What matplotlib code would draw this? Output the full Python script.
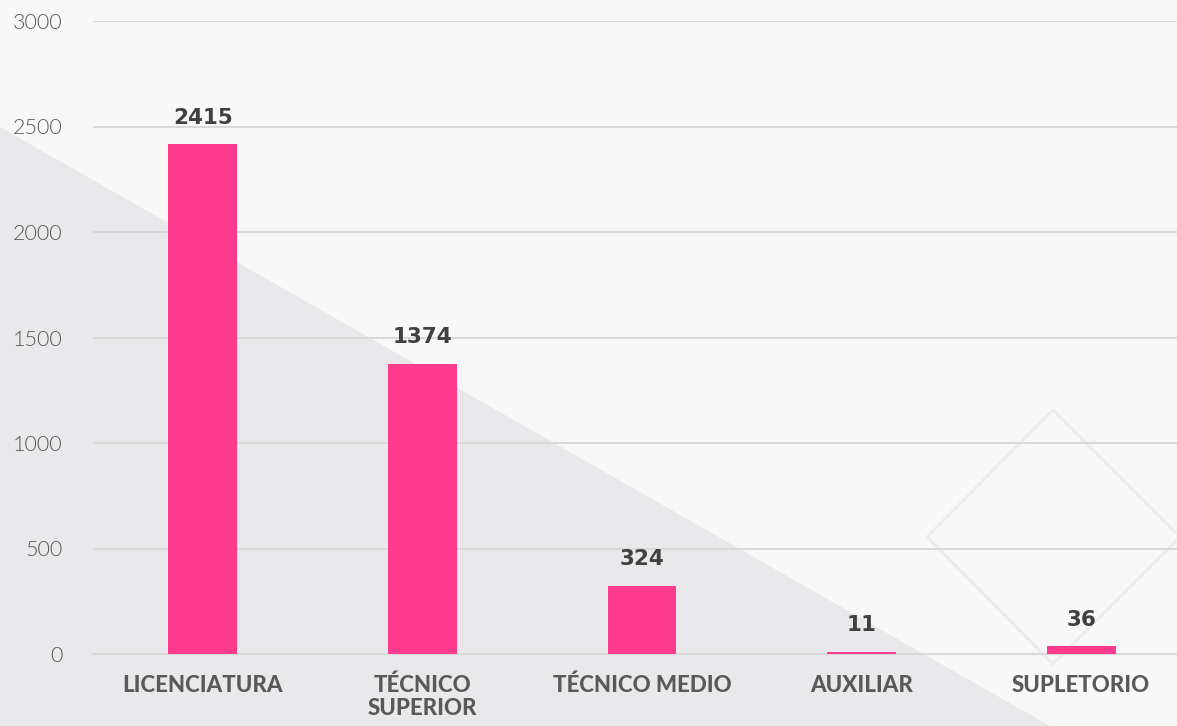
import numpy as np
import matplotlib.pyplot as plt
from matplotlib.patches import Polygon

categories = ["LICENCIATURA", "TÉCNICO\nSUPERIOR", "TÉCNICO MEDIO", "AUXILIAR", "SUPLETORIO"]
values = [2415, 1374, 324, 11, 36]
yticks = [0, 500, 1000, 1500, 2000, 2500, 3000]

W, H = 1177, 726
fig = plt.figure(figsize=(W / 100, H / 100), dpi=100)
fig.patch.set_facecolor("#f8f8f9")

# background: light grey triangle at the lower left + faint diamond decoration
bg = fig.add_axes([0, 0, 1, 1], zorder=0)
bg.set_xlim(0, W)
bg.set_ylim(H, 0)
bg.axis("off")
bg.add_patch(Polygon([(0, 127), (1050, H), (0, H)], closed=True,
                     facecolor="#e9e9eb", edgecolor="none"))
bg.add_patch(Polygon([(1053, 410), (1180, 537), (1053, 664), (927, 537)], closed=True,
                     facecolor="none", edgecolor="#ececee", linewidth=2))

# plot area: x from 93 px, zero line at 654 px, 3000 at 21 px
left = 93 / W
bottom = 1 - 654 / H
height = (654 - 21) / H
width = 1098 / W
ax = fig.add_axes([left, bottom, width, height], zorder=1)
ax.patch.set_alpha(0)

x = np.arange(len(categories))
bars = ax.bar(x, values, width=0.314, color="#ff3b8d", zorder=3)

ax.set_xlim(-0.5, len(categories) - 0.5)
ax.set_ylim(0, 3000)
ax.set_yticks(yticks)
ax.set_yticklabels([str(t) for t in yticks], fontsize=15.5, color="#555555",
                   family="Lato", fontweight=300)
ax.set_xticks(x)
ax.set_xticklabels(categories, fontsize=16, color="#595959", family="Lato",
                   fontweight=900, linespacing=1.12, va="top")
ax.tick_params(axis="y", length=0, pad=22)
ax.tick_params(axis="x", length=0, pad=15)
ax.grid(axis="y", color="#d9d9d9", linewidth=1.5, zorder=0)
for s in ["top", "right", "left"]:
    ax.spines[s].set_visible(False)
ax.spines["bottom"].set_color("#d9d9d9")
ax.spines["bottom"].set_linewidth(1.5)

for b, v in zip(bars, values):
    ax.annotate(str(v), (b.get_x() + b.get_width() / 2, v), xytext=(0, 12),
                textcoords="offset points", ha="center", va="bottom",
                fontsize=15.5, fontweight="bold", color="#404040", family="DejaVu Sans")

fig.savefig("out.png", dpi=100)
